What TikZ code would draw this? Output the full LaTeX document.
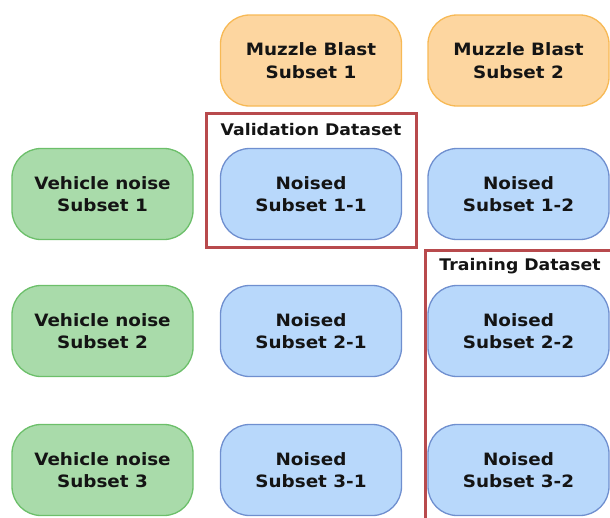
\documentclass[tikz,border=0pt]{standalone}
\usepackage{fontspec}
\setmainfont{DejaVu Sans}[FakeStretch=1.08]
\definecolor{gfill}{HTML}{A9DBAA}
\definecolor{gdraw}{HTML}{6CBF6A}
\definecolor{bfill}{HTML}{B8D8FB}
\definecolor{bdraw}{HTML}{6F8FCF}
\definecolor{ofill}{HTML}{FDD6A0}
\definecolor{odraw}{HTML}{F7B955}
\definecolor{rbox}{HTML}{B84A4D}
\begin{document}
\begin{tikzpicture}[x=1pt,y=1pt,
  cell/.style={rectangle, rounded corners=29pt, minimum width=181pt, minimum height=91pt,
    line width=1.3pt, align=center, font=\fontsize{17}{22.5}\selectfont\bfseries, text=black!92},
  green/.style={cell, fill=gfill, draw=gdraw},
  blue/.style={cell, fill=bfill, draw=bdraw},
  orange/.style={cell, fill=ofill, draw=odraw},
  setbox/.style={draw=rbox, line width=3pt},
  setlabel/.style={font=\fontsize{16}{19}\selectfont\bfseries, text=black!92}]
\useasboundingbox (0,0) rectangle (610,-517);
\begin{scope}
\clip (0,0) rectangle (610,-517);
\node[orange] (m1) at (311,-60.5) {Muzzle Blast\\Subset 1};
\node[orange] (m2) at (518.5,-60.5) {Muzzle Blast\\Subset 2};
\node[green] (v1) at (102.5,-194) {Vehicle noise\\Subset 1};
\node[green] (v2) at (102.5,-331) {Vehicle noise\\Subset 2};
\node[green] (v3) at (102.5,-470) {Vehicle noise\\Subset 3};
\node[blue] (n11) at (311,-194) {Noised\\Subset 1-1};
\node[blue] (n12) at (518.5,-194) {Noised\\Subset 1-2};
\node[blue] (n21) at (311,-331) {Noised\\Subset 2-1};
\node[blue] (n22) at (518.5,-331) {Noised\\Subset 2-2};
\node[blue] (n31) at (311,-470) {Noised\\Subset 3-1};
\node[blue] (n32) at (518.5,-470) {Noised\\Subset 3-2};
\draw[setbox] (206,-113) rectangle (416,-247);
\node[setlabel] (val) at (311,-130) {Validation Dataset};
\draw[setbox] (620,-250) -- (425,-250) -- (425,-530);
\node[setlabel] (tr) at (520,-266) {Training Dataset};
\end{scope}
\end{tikzpicture}
\end{document}
